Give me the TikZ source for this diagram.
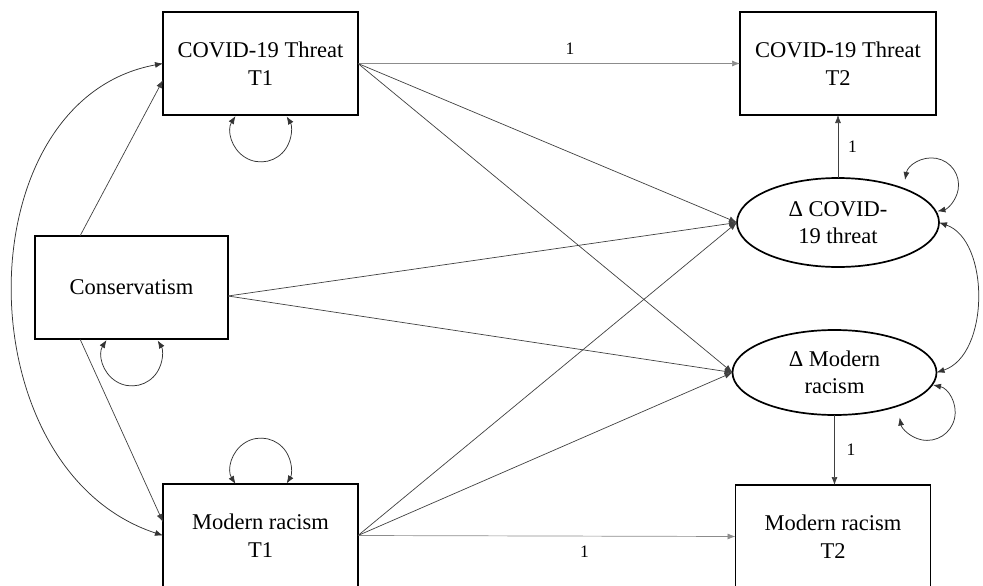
\documentclass[tikz,border=0pt]{standalone}
\usepackage{fontspec}
\setmainfont{Liberation Serif}
\usetikzlibrary{arrows.meta,shapes.geometric}
\begin{document}
\begin{tikzpicture}[x=1pt,y=-1pt,
  every node/.style={inner sep=0pt, outer sep=0pt},
  obsbox/.style={draw=black, line width=1.5pt, minimum width=195pt, minimum height=103pt,
    align=center, font=\fontsize{22.5}{27.5}\selectfont},
  latbox/.style={ellipse, draw=black, line width=1.7pt, align=center,
    font=\fontsize{22.5}{27.5}\selectfont},
  conn/.style={draw=black!75, line width=0.7pt, -{Latex[length=8pt,width=6pt]}},
  lightconn/.style={conn, draw=black!45},
  dconn/.style={draw=black!80, line width=0.75pt, {Latex[length=8pt,width=6pt]}-{Latex[length=8pt,width=6pt]}},
  lbl/.style={font=\fontsize{17.5}{20}\selectfont}
]
\useasboundingbox (0,0) rectangle (983,586);
% observed boxes
\node[obsbox] (T1C) at (260.5,63.5) {COVID-19 Threat\\T1};
\node[obsbox, minimum width=196pt] (T2C) at (838,63.5) {COVID-19 Threat\\T2};
\node[obsbox, minimum width=193pt] (Cons) at (131.5,287.5) {Conservatism};
\node[obsbox] (MT1) at (260.5,535.5) {Modern racism\\T1};
\node[obsbox] (MT2) at (833,536.5) {Modern racism\\T2};
% latent ellipses
\node[latbox, minimum width=202pt, minimum height=89pt] (CE) at (838,222.5) {Δ COVID-\\19 threat};
\node[latbox, minimum width=204pt, minimum height=85pt] (ME) at (834.5,372.5) {Δ Modern\\racism};

% autoregressive paths
\draw[lightconn] (T1C.east) -- node[lbl, above=9pt, pos=0.555] {1} (T2C.west);
\draw[lightconn] (MT1.east) -- node[lbl, below=10pt, pos=0.6] {1} (MT2.west);

% paths from T1 measures and conservatism to change scores
\draw[conn] (T1C.east) -- (CE.west);
\draw[conn] (T1C.east) -- (ME.west);
\draw[conn] ([yshift=-8.5pt]Cons.east) -- (CE.west);
\draw[conn] ([yshift=-8.5pt]Cons.east) -- (ME.west);
\draw[conn] (MT1.east) -- (CE.west);
\draw[conn] (MT1.east) -- (ME.west);

% conservatism to T1 measures
\draw[conn] ([xshift=-51.5pt]Cons.north) -- ([yshift=-16.5pt]T1C.west);
\draw[conn] ([xshift=-51.5pt]Cons.south) -- ([yshift=13.5pt]MT1.west);

% change scores to T2 measures
\draw[conn] (CE.north) -- node[lbl, right=10pt, pos=0.5] {1} (CE.north |- T2C.south);
\draw[conn] (ME.south) -- node[lbl, right=12pt, pos=0.5] {1} (ME.south |- MT2.north);

% covariance between T1 measures
\draw[dconn] (T1C.west) .. controls (-37,100) and (-37,470) .. (MT1.west);

% covariance between change scores
\draw[dconn] (CE.east) .. controls (990,240) and (990,355) .. (ME.east);

% variance loops on boxes
\draw[dconn] ([xshift=-25pt,yshift=-1pt]T1C.south) arc[start angle=212, end angle=-31, radius=30];
\draw[dconn] ([xshift=-25pt,yshift=-1pt]Cons.south) arc[start angle=212, end angle=-31, radius=30];
\draw[dconn] ([xshift=-25pt,yshift=0pt]MT1.north) arc[start angle=148, end angle=391, radius=30];

% variance loops on ellipses
\draw[dconn] ([shift={(67pt,42.5pt)}]CE.center) arc[start angle=190.5, end angle=437.5, radius=27];
\draw[dconn] ([shift={(98.5pt,-12.5pt)}]ME.center) arc[start angle=-78, end angle=169.5, radius=28];
\end{tikzpicture}
\end{document}
